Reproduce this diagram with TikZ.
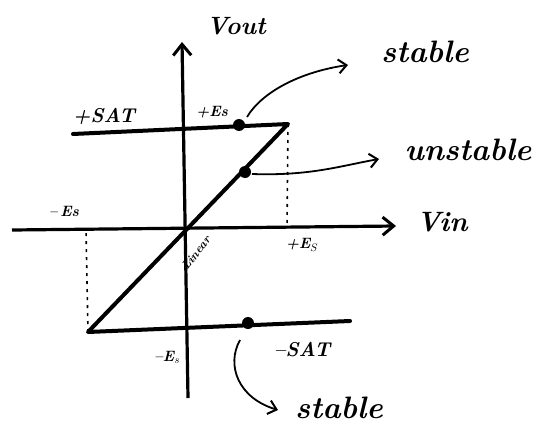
\documentclass[tikz,border=0pt]{standalone}
\usepackage{tikz}
\usetikzlibrary{arrows.meta}

\begin{document}
\begin{tikzpicture}[
    x=1pt, y=-1pt,
    axis/.style={line width=3.2pt, -{Straight Barb[length=11pt,width=18pt,line width=3pt]}},
    curve/.style={line width=4pt, line join=round, line cap=round},
    guide/.style={line width=1.6pt, dash pattern=on 3pt off 5pt},
    note/.style={line width=1.8pt, -{Straight Barb[length=8pt,width=14pt,line width=2pt]}},
    dot/.style={circle, fill=black, inner sep=0pt, minimum size=12pt},
    hand/.style={font=\bfseries\itshape\fontsize{#1}{#1}\selectfont, inner sep=0pt},
    hand/.default=18
]
\useasboundingbox (0,0) rectangle (557,439);

% axes
\coordinate (xl) at (12,230);
\coordinate (xr) at (396,226);
\coordinate (yb) at (188,398);
\coordinate (yt) at (182,42);
\draw[axis] (xl) -- (xr);
\draw[axis] (yb) -- (yt);

% hysteresis curve
\coordinate (tl) at (73,134);
\coordinate (tr) at (288,124);
\coordinate (bl) at (88,332);
\coordinate (br) at (350,321);
\draw[curve] (tl) -- (tr) -- (bl) -- (br);

% thresholds
\coordinate (ep) at (287,228);
\coordinate (em) at (86,230);
\draw[guide] (tr) -- (ep);
\draw[guide] (bl) -- (em);

% operating points
\node[dot] (sUp) at (239,125) {};
\node[dot] (uMid) at (245,172) {};
\node[dot] (sLow) at (248,323) {};

% labels
\node[hand=25] (vout) at (236,26) {Vout};
\node[hand=28] (vin) at (442,222) {Vin};
\node[hand=20] (psat) at (104,116) {+SAT};
\node[hand=20] (nsat) at (302,350) {\textendash SAT};
\node[hand=15] (pesTop) at (212,112) {+Es};
\node[hand=15] (mesLeft) at (64,211) {\textendash\,Es};
\node[hand=15] (pesBot) at (302,245) {+E$_S$};
\node[hand=15] (mesBot) at (167,357) {\textendash E$_s$};
\node[hand=12, rotate=52] (lin) at (196,253) {Linear};
\node[hand=31] (stTop) at (425,52) {stable};
\node[hand=31] (unst) at (468,150) {unstable};
\node[hand=31] (stBot) at (339,408) {stable};

% pointers
\coordinate (tipA) at (348,65);
\coordinate (tipB) at (379,159);
\coordinate (tipC) at (278,410);
\draw[note] ([shift={(8,-8)}]sUp.center) .. controls (262,92) and (300,72) .. (tipA);
\draw[note] ([shift={(7,2)}]uMid.center) .. controls (310,176) and (340,166) .. (tipB);
\draw[note] (240,340) .. controls (226,365) and (238,398) .. (tipC);
\end{tikzpicture}
\end{document}
